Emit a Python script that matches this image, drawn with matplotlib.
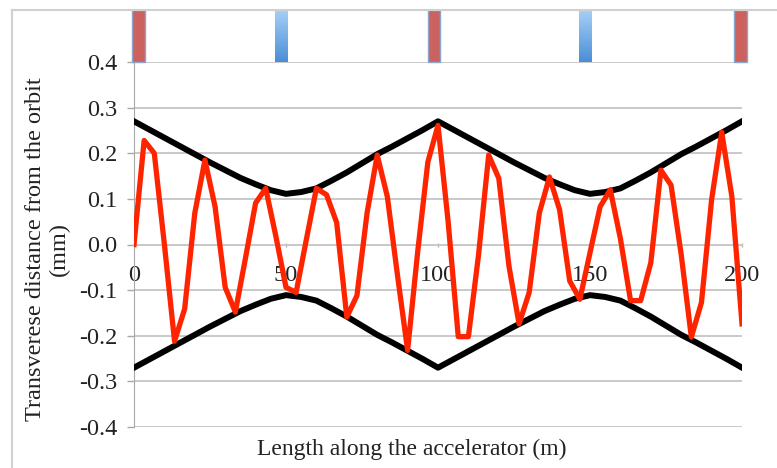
import matplotlib
matplotlib.use("Agg")
import matplotlib.pyplot as plt
import numpy as np
from matplotlib.patches import Rectangle
from matplotlib.lines import Line2D

plt.rcParams['font.family'] = ['Liberation Serif', 'DejaVu Serif']

# envelope (beam size), every 5 m
env_x = np.arange(0, 205, 5)
env_upper = [0.27, 0.252, 0.234, 0.216, 0.198, 0.18, 0.163, 0.146, 0.132, 0.119, 0.111,
             0.115, 0.123, 0.14, 0.158, 0.178, 0.198, 0.215, 0.233, 0.251, 0.27,
             0.252, 0.234, 0.216, 0.198, 0.18, 0.163, 0.146, 0.132, 0.119, 0.111,
             0.115, 0.123, 0.14, 0.158, 0.178, 0.198, 0.215, 0.233, 0.251, 0.27]
env_lower = [-0.27, -0.252, -0.234, -0.216, -0.198, -0.18, -0.163, -0.146, -0.132, -0.119, -0.111,
             -0.115, -0.123, -0.14, -0.158, -0.178, -0.198, -0.215, -0.233, -0.251, -0.27,
             -0.252, -0.234, -0.216, -0.198, -0.18, -0.163, -0.146, -0.132, -0.119, -0.111,
             -0.115, -0.123, -0.14, -0.158, -0.178, -0.198, -0.215, -0.233, -0.251, -0.27]

# particle trajectory, sampled along the line
traj_x = np.linspace(0, 200, 61)
traj_y = [0.0, 0.228, 0.20, 0.0, -0.212, -0.141, 0.069, 0.185, 0.083, -0.094,
          -0.148, -0.03, 0.091, 0.123, 0.018, -0.094, -0.105, 0.01, 0.123, 0.109,
          0.048, -0.159, -0.112, 0.069, 0.196, 0.105, -0.067, -0.232, -0.015, 0.181,
          0.261, 0.05, -0.202, -0.202, -0.023, 0.196, 0.145, -0.047, -0.174, -0.105,
          0.069, 0.148, 0.076, -0.08, -0.12, -0.018, 0.083, 0.12, 0.013, -0.123,
          -0.123, -0.04, 0.163, 0.13, -0.022, -0.203, -0.127, 0.098, 0.246, 0.105,
          -0.174]

# quadrupoles on top strip
magnet_x = [1.5, 48.5, 98.7, 148.4, 199.5]
magnet_kind = ['F', 'D', 'F', 'D', 'F']
magnet_w = 4.0

y_ticks = [-0.4, -0.3, -0.2, -0.1, 0.0, 0.1, 0.2, 0.3, 0.4]
y_tick_labels = ['-0.4', '-0.3', '-0.2', '-0.1', '0.0', '0.1', '0.2', '0.3', '0.4']
x_ticks = [0, 50, 100, 150, 200]

W, H = 777, 468
fig = plt.figure(figsize=(W / 100, H / 100), dpi=100)

def box(l, t, r, b):
    return [l / W, 1 - b / H, (r - l) / W, (b - t) / H]

ax = fig.add_axes(box(134, 62, 742, 427))
txt = '#222222'
grid_c = '#c9c9c9'
fs = 17.5

ax.set_xlim(0, 200)
ax.set_ylim(-0.4, 0.4)
ax.set_yticks(y_ticks)
ax.set_yticklabels(y_tick_labels)
ax.set_xticks(x_ticks)
ax.yaxis.grid(True, color=grid_c, lw=1.4)
ax.set_axisbelow(True)
for s in ['top', 'right']:
    ax.spines[s].set_visible(False)
ax.spines['left'].set_color('#a8a8a8')
ax.spines['bottom'].set_position(('data', 0))
ax.spines['bottom'].set_color(grid_c)
ax.spines['bottom'].set_linewidth(1.4)
ax.tick_params(axis='y', direction='out', length=5, width=1, color='#a8a8a8',
               labelsize=fs, labelcolor=txt, pad=7)
ax.tick_params(axis='x', direction='inout', length=3, width=1, color='#b0b0b0',
               labelsize=fs, labelcolor=txt, pad=13)

ax.plot(env_x, env_upper, color='black', lw=4.3, zorder=3)
ax.plot(env_x, env_lower, color='black', lw=4.3, zorder=3)
ax.plot(traj_x, traj_y, color='#ff2400', lw=3.8, zorder=4)

# magnet strip
mx = fig.add_axes(box(134, 10, 742, 62))
mx.axis('off')
blues = matplotlib.colors.LinearSegmentedColormap.from_list('b', ['#a9d0f7', '#4a8fd6'])
for xc, k in zip(magnet_x, magnet_kind):
    if k == 'F':
        mx.add_patch(Rectangle((xc - magnet_w / 2, 0), magnet_w, 1, facecolor='#cc6260',
                               edgecolor='#8aa6cc', lw=1, clip_on=False))
    else:
        grad = np.linspace(0, 1, 50).reshape(-1, 1)
        mx.imshow(grad, extent=(xc - magnet_w / 2, xc + magnet_w / 2, 0, 1), cmap=blues,
                  aspect='auto', origin='upper', clip_on=False)
mx.set_xlim(0, 200)
mx.set_ylim(0, 1)

# chart-area frame (left and top edges)
fig.add_artist(Line2D([12 / W, 12 / W], [0, 1 - 10 / H], color='#d0d0d0', lw=1.5))
fig.add_artist(Line2D([12 / W, 1], [1 - 10 / H, 1 - 10 / H], color='#d0d0d0', lw=1.5))

fig.text(412 / W, 1 - 449 / H, 'Length along the accelerator (m)', ha='center', va='center',
         fontsize=17, color=txt)
fig.text(47.5 / W, 1 - 249 / H, 'Transverese distance from the orbit\n(mm)', ha='center',
         va='center', rotation=90, fontsize=fs, color=txt, linespacing=1.15,
         multialignment='center')

fig.savefig('out.png', dpi=100)
